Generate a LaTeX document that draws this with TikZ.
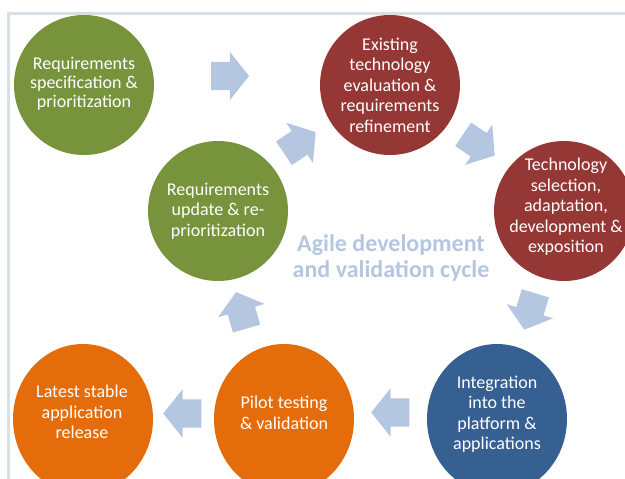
\documentclass[tikz,border=0pt]{standalone}
\usepackage{fontspec}
\setmainfont{Carlito}
\usetikzlibrary{shapes.geometric,shapes.arrows}

\definecolor{olivegreen}{HTML}{77933C}
\definecolor{brickred}{HTML}{953735}
\definecolor{steelblue}{HTML}{376092}
\definecolor{burntorange}{HTML}{E46C0A}
\definecolor{flowblue}{HTML}{B4C6E0}
\definecolor{framegray}{HTML}{D8E0E5}

\begin{document}
\begin{tikzpicture}[x=1pt, y=-1pt,
  bubble/.style={ellipse, minimum width=140pt, minimum height=140pt, inner sep=0pt},
  tall/.style={minimum height=150pt},
  bubbletext/.style={text=white, align=center, inner sep=0pt,
    font=\fontsize{18}{20.5}\selectfont},
  flow/.style={single arrow, fill=flowblue, inner xsep=0pt, inner ysep=14pt,
    anchor=tip, minimum height=38pt, minimum width=48pt,
    single arrow head extend=10pt, single arrow tip angle=103}]
  \clip (0,0) rectangle (625,479);
  \draw[framegray, line width=2.5pt] (8.5,13.5) rectangle (700,600);

  % the cycle
  \node[bubble, fill=olivegreen] (spec) at (84,85) {};
  \node[bubble, fill=brickred] (exist) at (390,85) {};
  \node[bubble, fill=brickred] (techsel) at (564,211) {};
  \node[bubble, fill=olivegreen] (upd) at (218,211) {};
  \node[bubble, tall, fill=steelblue] (integ) at (497,419) {};
  \node[bubble, tall, fill=burntorange] (pilot) at (284,419) {};
  \node[bubble, tall, fill=burntorange] (release) at (83,419) {};

  \node[bubbletext, font=\fontsize{18}{19.2}\selectfont] (spec-t) at (84,83.5)
    {Requirements\\ specification \&\\ prioritization};
  \node[bubbletext] (exist-t) at (390,85)
    {Existing\\ technology\\ evaluation \&\\ requirements\\ refinement};
  \node[bubbletext] (techsel-t) at (566,207)
    {Technology\\ selection,\\ adaptation,\\ development \&\\ exposition};
  \node[bubbletext] (upd-t) at (218,211)
    {Requirements\\ update \& re-\\ prioritization};
  \node[bubbletext] (integ-t) at (497,414)
    {Integration\\ into the\\ platform \&\\ applications};
  \node[bubbletext] (pilot-t) at (284,413)
    {Pilot testing\\ \& validation};
  \node[bubbletext] (release-t) at (82,412)
    {Latest stable\\ application\\ release};

  \node[text=flowblue, align=center, font=\bfseries\fontsize{24}{26.7}\selectfont]
    (cycle) at (391,258) {Agile development\\ and validation cycle};

  % block arrows
  \node[flow] (f1) at (249.3,76) {};
  \node[flow, rotate=33.7] (f2) at (315.8,132) {};
  \node[flow, rotate=-34] (f3) at (494.9,155.7) {};
  \node[flow, rotate=-107] (f4) at (524.2,329.9) {};
  \node[flow, rotate=180] (f5) at (371,412.5) {};
  \node[flow, rotate=180] (f6) at (163,413.5) {};
  \node[flow, rotate=106] (f7) at (236,291.8) {};
\end{tikzpicture}
\end{document}
